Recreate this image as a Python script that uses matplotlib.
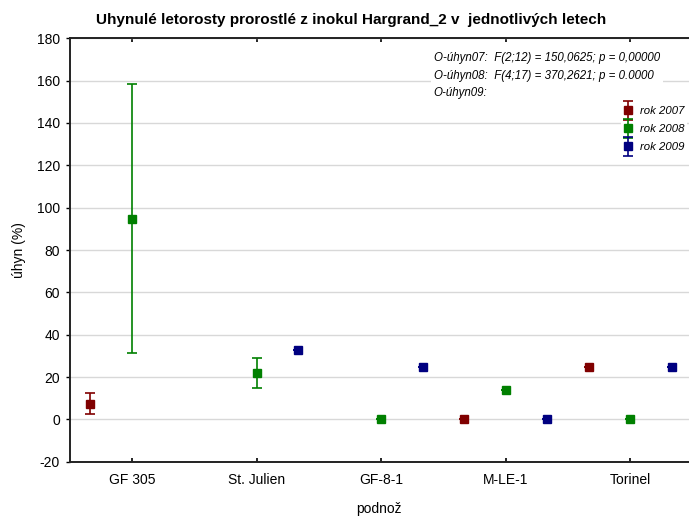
import numpy as np
import matplotlib.pyplot as plt
from matplotlib.container import ErrorbarContainer
from matplotlib.legend_handler import HandlerErrorbar

plt.rcParams['font.family'] = ['Liberation Sans', 'DejaVu Sans']
plt.rcParams['axes.unicode_minus'] = False

# podnože a průměrný úhyn po letech (NaN = rok nesledován)
podnoze = ['GF 305', 'St. Julien', 'GF-8-1', 'M-LE-1', 'Torinel']
roky = ['rok 2007', 'rok 2008', 'rok 2009']
uhyn_2007 = [7.4, np.nan, np.nan, 0.0, 25.0]
uhyn_2008 = [94.8, 22.1, 0.0, 14.0, 0.0]
uhyn_2009 = [np.nan, 33.0, 25.0, 0.0, 25.0]
chyba_2007 = [4.9, 0.0, 0.0, 0.0, 0.0]
chyba_2008 = [63.4, 7.1, 0.0, 0.0, 0.0]
chyba_2009 = [0.0, 0.0, 0.0, 0.0, 0.0]

barvy = ['#800000', '#008000', '#000080']
posun = [-1 / 3, 0.0, 1 / 3]

fig = plt.figure(figsize=(6.89, 5.16), dpi=100)
ax = fig.add_axes([0.101, 0.105, 0.899, 0.821])

x = np.arange(len(podnoze))
for rok, hodnoty, chyby, barva, dx in zip(roky, [uhyn_2007, uhyn_2008, uhyn_2009],
                                          [chyba_2007, chyba_2008, chyba_2009], barvy, posun):
    ax.errorbar(x + dx, hodnoty, yerr=chyby, fmt='s', color=barva, ms=5.8,
                capsize=3.5, elinewidth=1.2, capthick=1.2, label=rok, zorder=3)

ax.set_xlim(-0.5, 4.47)
ax.set_ylim(-20, 180)
ax.set_yticks(np.arange(-20, 181, 20))
ax.set_xticks(x)
ax.set_xticklabels(podnoze)
ax.yaxis.grid(True, color='#d8d8d8', lw=1)
ax.set_axisbelow(True)

for s in ['left', 'bottom', 'top']:
    ax.spines[s].set_linewidth(1.4)
    ax.spines[s].set_color('#222222')
ax.spines['right'].set_visible(False)
ax.tick_params(axis='x', direction='in', top=True, length=3, width=1.2, labelsize=10, pad=8)
ax.tick_params(axis='y', direction='out', length=3, width=1, labelsize=10, pad=4)

fig.text(0.51, 0.962, 'Uhynulé letorosty prorostlé z inokul Hargrand_2 v  jednotlivých letech',
         fontsize=11, fontweight='bold', ha='center', va='center')
ax.set_ylabel('úhyn (%)', fontsize=10, labelpad=8)
ax.set_xlabel('podnož', fontsize=10, labelpad=11)

# statistiky ANOVA v pravém horním rohu
stat = ('O-úhyn07:  F(2;12) = 150,0625; p = 0,00000\n'
        'O-úhyn08:  F(4;17) = 370,2621; p = 0.0000\n'
        'O-úhyn09:')
ax.text(0.588, 0.967, stat, transform=ax.transAxes, fontsize=8.3, style='italic',
        va='top', ha='left', linespacing=1.6,
        bbox=dict(facecolor='white', edgecolor='none', pad=2))

leg = ax.legend(loc='upper right', bbox_to_anchor=(1.0, 0.85), frameon=True,
                fancybox=False, edgecolor='none', framealpha=1, handlelength=0.9,
                handletextpad=0.6, labelspacing=0.7, borderaxespad=0.2,
                borderpad=0.2, prop={'style': 'italic', 'size': 8.2},
                handler_map={ErrorbarContainer: HandlerErrorbar(yerr_size=0.85)})

fig.savefig('out.png', dpi=100)
